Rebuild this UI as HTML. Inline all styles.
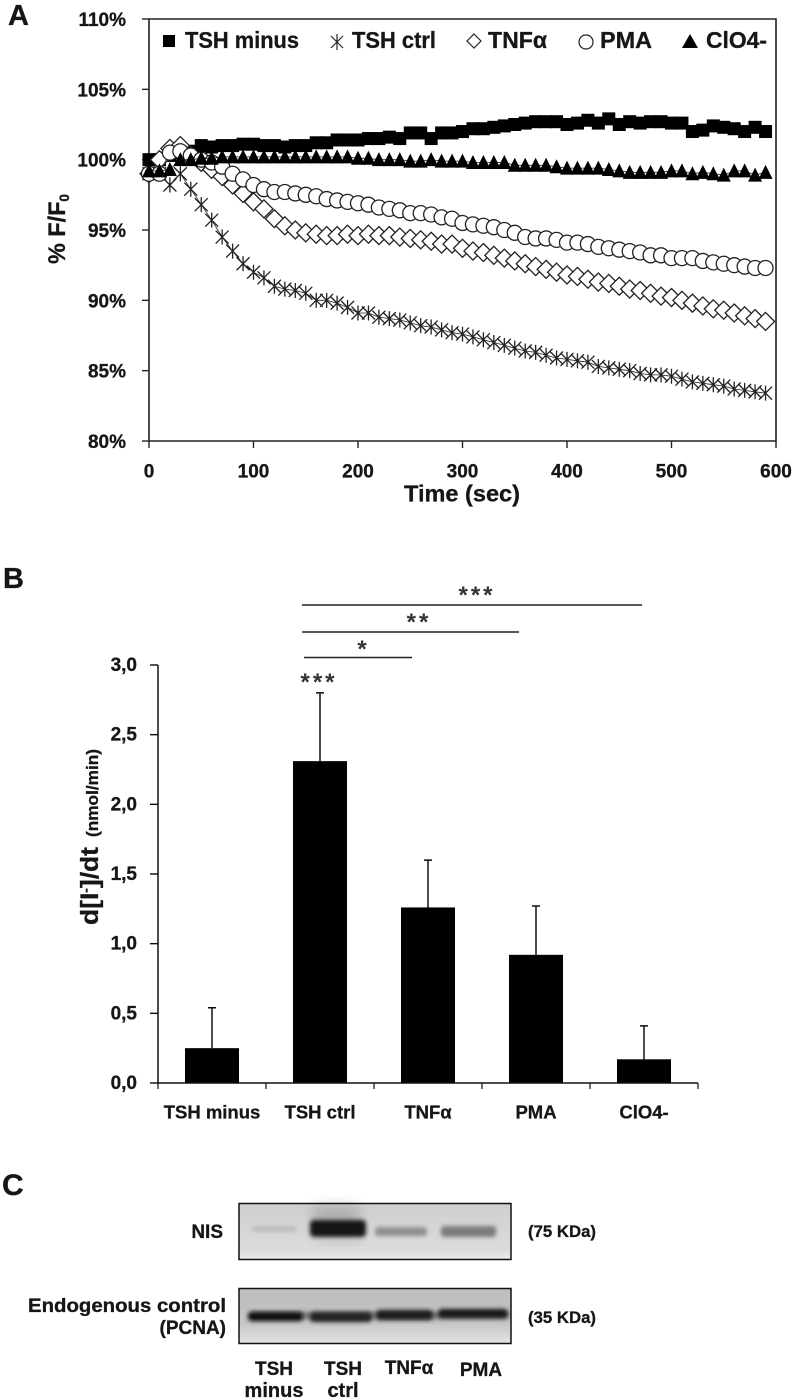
<!DOCTYPE html>
<html lang="en">
<head>
<meta charset="utf-8">
<title>Iodide efflux figure</title>
<style>
html,body{margin:0;padding:0;background:#fff;}
svg{display:block;}
text{font-family:"Liberation Sans",sans-serif;font-weight:bold;fill:#161616;stroke:#161616;stroke-width:0.3;}
</style>
</head>
<body>
<svg id="fig" xmlns="http://www.w3.org/2000/svg" width="797" height="1400" viewBox="0 0 797 1400">
<defs>
<filter id="b1" x="-30%" y="-100%" width="160%" height="300%"><feGaussianBlur stdDeviation="2"/></filter>
<filter id="b2" x="-50%" y="-100%" width="200%" height="300%"><feGaussianBlur stdDeviation="6"/></filter>
<filter id="soft" x="-5%" y="-5%" width="110%" height="110%"><feGaussianBlur stdDeviation="0.35"/></filter>
<linearGradient id="nisBg" x1="0" y1="0" x2="0" y2="1"><stop offset="0" stop-color="#cfcfcf"/><stop offset="0.85" stop-color="#dcdcdc"/><stop offset="1" stop-color="#ececec"/></linearGradient>
<linearGradient id="pcnaBg" x1="0" y1="0" x2="0" y2="1"><stop offset="0" stop-color="#bdbdbd"/><stop offset="0.6" stop-color="#c4c4c4"/><stop offset="1" stop-color="#e2e2e2"/></linearGradient>
</defs>

<text x="8" y="25" font-size="29">A</text>
<text x="3" y="588" font-size="29">B</text>
<text x="2" y="1195" font-size="30">C</text>

<g id="chartA" filter="url(#soft)"></g>
<g id="legendA" filter="url(#soft)">
  <rect x="163" y="35" width="12" height="12" fill="#000"/>
  <text x="185" y="48" font-size="23" textLength="114" lengthAdjust="spacingAndGlyphs">TSH minus</text>
  <g stroke="#222" stroke-width="1.2" fill="none"><path d="M331 36L343 48M343 36L331 48M337 34V50"/></g>
  <text x="352" y="48" font-size="23" textLength="84" lengthAdjust="spacingAndGlyphs">TSH ctrl</text>
  <path d="M474 34L481 41L474 48L467 41Z" fill="#fff" stroke="#222" stroke-width="1.2"/>
  <text x="488" y="48" font-size="23" textLength="59" lengthAdjust="spacingAndGlyphs">TNFα</text>
  <circle cx="586" cy="42" r="7" fill="#fff" stroke="#222" stroke-width="1.2"/>
  <text x="600" y="48" font-size="23" textLength="52" lengthAdjust="spacingAndGlyphs">PMA</text>
  <path d="M690 34L698 48H682Z" fill="#000"/>
  <text x="706" y="48" font-size="23" textLength="61" lengthAdjust="spacingAndGlyphs">ClO4-</text>
</g>
<text x="462" y="501.500" font-size="23" text-anchor="middle" textLength="116" lengthAdjust="spacingAndGlyphs">Time (sec)</text>
<text transform="translate(65,264) rotate(-90)" font-size="24" textLength="70" lengthAdjust="spacingAndGlyphs">% F/F<tspan font-size="14" dy="4">0</tspan></text>

<g id="chartB" filter="url(#soft)"></g>
<text transform="translate(98,925) rotate(-90)" font-size="25" textLength="78" lengthAdjust="spacingAndGlyphs">d[I<tspan font-size="13" dy="-8">-</tspan><tspan dy="8">]/dt</tspan></text>
<text transform="translate(98,837) rotate(-90)" font-size="16.500" textLength="88" lengthAdjust="spacingAndGlyphs">(nmol/min)</text>

<g stroke="#222" stroke-width="1.500">
  <line x1="302" y1="605" x2="642" y2="605"/>
  <line x1="302" y1="632" x2="519" y2="632"/>
  <line x1="304" y1="657.500" x2="412" y2="657.500"/>
</g>
<g font-size="24">
  <text x="477" y="603" text-anchor="middle" letter-spacing="3" style="fill:#333;stroke:none">***</text>
  <text x="419" y="630" text-anchor="middle" letter-spacing="3" style="fill:#333;stroke:none">**</text>
  <text x="362" y="657" text-anchor="middle" style="fill:#333;stroke:none">*</text>
  <text x="319" y="690" text-anchor="middle" letter-spacing="3" style="fill:#333;stroke:none">***</text>
</g>

<g>
  <rect x="239" y="1204" width="271.500" height="55" fill="url(#nisBg)"/>
  <rect x="252" y="1227" width="44" height="4" rx="2" fill="#b4b4b4" filter="url(#b1)"/>
  <rect x="312" y="1207" width="48" height="16" rx="6" fill="#aaa" filter="url(#b2)"/>
  <rect x="314" y="1237" width="48" height="5" rx="2" fill="#bbb" filter="url(#b2)"/>
  <rect x="310" y="1220" width="56" height="17" rx="4" fill="#141414" filter="url(#b1)"/>
  <rect x="375" y="1227" width="52" height="9" rx="3" fill="#8f8f8f" filter="url(#b1)"/>
  <rect x="441" y="1226" width="55" height="11" rx="3" fill="#7a7a7a" filter="url(#b1)"/>
  <rect x="239" y="1203.500" width="272" height="56" fill="none" stroke="#111" stroke-width="1.500"/>
</g>
<g>
  <rect x="239" y="1289" width="271.500" height="54" fill="url(#pcnaBg)"/>
  <rect x="250" y="1312" width="258" height="7" fill="#777" filter="url(#b1)"/>
  <rect x="248" y="1312" width="55" height="9" rx="4" fill="#111" filter="url(#b1)"/>
  <rect x="310" y="1312" width="62" height="10" rx="4" fill="#222" filter="url(#b1)"/>
  <rect x="376" y="1310" width="57" height="10" rx="4" fill="#1c1c1c" filter="url(#b1)"/>
  <rect x="438" y="1309" width="70" height="9" rx="4" fill="#141414" filter="url(#b1)"/>
  <rect x="239" y="1288.500" width="272" height="55" fill="none" stroke="#111" stroke-width="1.500"/>
</g>
<g font-size="19">
  <text x="223" y="1238" text-anchor="end">NIS</text>
  <text x="28" y="1312" textLength="198" lengthAdjust="spacingAndGlyphs">Endogenous control</text>
  <text x="226" y="1334" text-anchor="end">(PCNA)</text>
  <text x="528" y="1237" font-size="17" textLength="68" lengthAdjust="spacingAndGlyphs">(75 KDa)</text>
  <text x="528" y="1323" font-size="17" textLength="68" lengthAdjust="spacingAndGlyphs">(35 KDa)</text>
  <text x="274" y="1375" text-anchor="middle">TSH</text>
  <text x="274" y="1397" text-anchor="middle" font-size="20">minus</text>
  <text x="343" y="1375" text-anchor="middle">TSH</text>
  <text x="343" y="1397" text-anchor="middle" font-size="20">ctrl</text>
  <text x="409" y="1374" text-anchor="middle">TNFα</text>
  <text x="481" y="1376" text-anchor="middle">PMA</text>
</g>

<script>
const timeStep = 10;
const tshMinus = [
100,100,100.3,100.5,100.6,101,100.9,101,101,101.1,
101.1,101,101,100.9,101,101,101.2,101.2,101.4,101.4,
101.4,101.5,101.5,101.6,101.5,101.9,101.9,101.5,101.9,101.9,
102,102.2,102.2,102.3,102.4,102.5,102.6,102.7,102.7,102.7,
102.5,102.6,102.8,102.6,102.9,102.5,102.7,102.6,102.7,102.7,
102.6,102.6,102,102.1,102.4,102.3,102.2,102,102.3,102];
const tshCtrl = [
99,99,98.2,99,97.9,96.8,95.7,94.5,93.5,92.6,
92,91.6,91,90.8,90.7,90.5,90,90,89.8,89.5,
89.1,89.1,88.8,88.7,88.6,88.4,88.2,88.1,87.9,87.7,
87.6,87.4,87.2,87,86.8,86.6,86.4,86.3,86.1,85.9,
85.8,85.7,85.6,85.3,85.2,85.1,85,84.8,84.7,84.7,
84.6,84.4,84.2,84.1,84,83.9,83.7,83.6,83.5,83.4];
const tnfAlpha = [
99,100,100.8,101,100.3,99.8,99.3,98.8,98.2,97.6,
97,96.5,95.8,95.3,95,94.8,94.7,94.6,94.6,94.7,
94.6,94.7,94.6,94.6,94.5,94.4,94.3,94.2,94,94,
93.7,93.5,93.4,93.2,93,92.8,92.6,92.4,92.2,92,
91.8,91.7,91.5,91.3,91.2,91,90.8,90.7,90.5,90.3,
90.2,90,89.8,89.6,89.4,89.3,89.1,88.9,88.7,88.5];
const pma = [
99,99,100.5,100.6,100.3,100,99.8,99.5,99,98.6,
98.2,97.9,97.7,97.7,97.6,97.5,97.4,97.2,97.1,97,
96.9,96.8,96.6,96.5,96.4,96.2,96.2,96.1,95.9,95.8,
95.5,95.4,95.3,95.2,95,94.8,94.5,94.4,94.4,94.3,
94.1,94.1,94,93.8,93.7,93.6,93.5,93.4,93.2,93.2,
93,93,93,92.8,92.7,92.6,92.5,92.4,92.3,92.3];
const clo4 = [
99.2,99.2,99.3,100,100,100.1,100.1,100.2,100.2,100.2,
100.2,100.2,100.2,100.2,100.2,100.2,100.2,100.2,100.2,100.2,
100.1,100.1,100,100,100,99.9,99.9,100,99.9,99.9,
99.9,99.8,99.8,99.8,99.8,99.6,99.6,99.6,99.6,99.5,
99.4,99.4,99.4,99.4,99.3,99.2,99.1,99.1,99.1,99.1,
99.2,99.2,99,99.1,99,98.9,99.2,99.2,98.9,99.1];
const yTicksA = [80,85,90,95,100,105,110];
const xTicksA = [0,100,200,300,400,500,600];

const barCategories = ['TSH minus','TSH ctrl','TNFα','PMA','ClO4-'];
const barValues = [0.25,2.31,1.26,0.92,0.17];
const barErrorTops = [0.54,2.80,1.60,1.27,0.41];
const yTicksB = ['0,0','0,5','1,0','1,5','2,0','2,5','3,0'];

const NS = 'http://www.w3.org/2000/svg';
function mk(parent, tag, attrs) {
  const e = document.createElementNS(NS, tag);
  for (const k in attrs) e.setAttribute(k, attrs[k]);
  parent.appendChild(e);
  return e;
}
const xA = t => 149 + (t / 600) * 627;
const yA = v => 441 - ((v - 80) / 30) * 422;
const yB = v => 1083 - (v / 3) * 418;
const xB = i => 158 + (i + 0.5) * 108;

const gA = document.getElementById('chartA');
const frame = mk(gA, 'path', {d: `M${xA(0)} ${yA(110)}H${xA(600)}V${yA(80)}H${xA(0)}Z`, fill: 'none', stroke: '#222', 'stroke-width': 1.6});



yTicksA.forEach(v => {
  const tick = mk(gA, 'line', {x1: xA(0) - 7, x2: xA(0), y1: yA(v), y2: yA(v), stroke: '#222', 'stroke-width': 1.4});
  
  
  const lab = mk(gA, 'text', {x: 126, y: yA(v) + 7, 'text-anchor': 'end', 'font-size': 19});
  
  
  lab.textContent = v + '%';
});
xTicksA.forEach(t => {
  const tick = mk(gA, 'line', {x1: xA(t), x2: xA(t), y1: yA(80), y2: yA(80) + 7, stroke: '#222', 'stroke-width': 1.4});
  
  
  const lab = mk(gA, 'text', {x: xA(t), y: 477.5, 'text-anchor': 'middle', 'font-size': 19});
  
  
  lab.textContent = String(t);
});

function linePath(vals) {
  return vals.map((v, i) => (i ? 'L' : 'M') + xA(i * timeStep).toFixed(1) + ' ' + yA(v).toFixed(1)).join('');
}
function seriesGroup(name, vals) {
  const g = mk(gA, 'g', {});
  
  
  const ln = mk(g, 'path', {d: linePath(vals), fill: 'none', stroke: '#222', 'stroke-width': 0.8});
  
  
  return g;
}

const gMinus = seriesGroup('series-tsh-minus', tshMinus);
tshMinus.forEach((v, i) => {
  const x = xA(i * timeStep), y = yA(v);
  const m = mk(gMinus, 'rect', {x: x - 6.5, y: y - 6.5, width: 13, height: 13, fill: '#000'});
  
  
});
const gCtrl = seriesGroup('series-tsh-ctrl', tshCtrl);
tshCtrl.forEach((v, i) => {
  const x = xA(i * timeStep), y = yA(v);
  const m = mk(gCtrl, 'path', {d: `M${x-6.5} ${y-6.5}L${x+6.5} ${y+6.5}M${x+6.5} ${y-6.5}L${x-6.5} ${y+6.5}M${x} ${y-7.5}V${y+7.5}`, fill: 'none', stroke: '#222', 'stroke-width': 1.3});
  
  
});
const gTnf = seriesGroup('series-tnf', tnfAlpha);
tnfAlpha.forEach((v, i) => {
  const x = xA(i * timeStep), y = yA(v);
  const m = mk(gTnf, 'path', {d: `M${x} ${y-9}L${x+9} ${y}L${x} ${y+9}L${x-9} ${y}Z`, fill: '#fff', stroke: '#222', 'stroke-width': 1.3});
  
  
});
const gPma = seriesGroup('series-pma', pma);
pma.forEach((v, i) => {
  const m = mk(gPma, 'circle', {cx: xA(i * timeStep), cy: yA(v), r: 7.5, fill: '#fff', stroke: '#222', 'stroke-width': 1.3});
  
  
});
const gClo = seriesGroup('series-clo4', clo4);
clo4.forEach((v, i) => {
  const x = xA(i * timeStep), y = yA(v);
  const m = mk(gClo, 'path', {d: `M${x} ${y-7.5}L${x+7} ${y+6.5}H${x-7}Z`, fill: '#000'});
  
  
});

const gB = document.getElementById('chartB');
barCategories.forEach((c, i) => {
  const x = xB(i);
  const err = mk(gB, 'path', {d: `M${x} ${yB(barValues[i])}V${yB(barErrorTops[i])}M${x-4} ${yB(barErrorTops[i])}H${x+4}`, fill: 'none', stroke: '#111', 'stroke-width': 1.5});
  
  
  const bar = mk(gB, 'rect', {x: x - 27, y: yB(barValues[i]), width: 54, height: yB(0) - yB(barValues[i]), fill: '#000'});
  
  
  const lab = mk(gB, 'text', {x: x, y: 1118.5, 'text-anchor': 'middle', 'font-size': 18.5});
  
  
  lab.textContent = c;
});
const axisB = mk(gB, 'path', {d: `M158 ${yB(3)}V${yB(0)}H698`, fill: 'none', stroke: '#111', 'stroke-width': 1.5});


yTicksB.forEach((t, i) => {
  const v = i * 0.5;
  const tick = mk(gB, 'line', {x1: 150, x2: 158, y1: yB(v), y2: yB(v), stroke: '#111', 'stroke-width': 1.4});
  
  
  const lab = mk(gB, 'text', {x: 137, y: yB(v) + 6, 'text-anchor': 'end', 'font-size': 19});
  
  
  lab.textContent = t;
});
for (let i = 0; i <= barCategories.length; i++) {
  const tick = mk(gB, 'line', {x1: 158 + i * 108, x2: 158 + i * 108, y1: yB(0), y2: yB(0) + 6, stroke: '#111', 'stroke-width': 1.2});
  
  
}
</script>
</svg>
</body>
</html>
